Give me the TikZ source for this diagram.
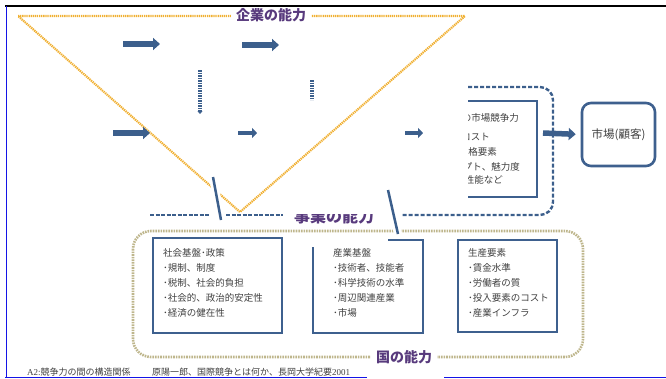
\documentclass[tikz,border=0pt]{standalone}
\usepackage{fontspec}
\usetikzlibrary{arrows.meta}
\newfontfamily\jp{Noto Sans CJK JP}
\newfontfamily\lserif{Liberation Serif}
\definecolor{ablue}{RGB}{60,95,140}
\definecolor{bblue}{RGB}{62,96,142}
\definecolor{trigold}{RGB}{240,176,50}
\definecolor{khaki}{RGB}{190,182,140}
\definecolor{purp}{RGB}{88,58,125}
\definecolor{tgrey}{RGB}{64,64,64}
\definecolor{frameblue}{RGB}{20,20,230}
\begin{document}
\begin{tikzpicture}[x=1pt,y=-1pt,
  fatarrow/.style={ablue, line width=5.5pt, -{Triangle[length=7pt,width=12pt]}},
  smallarrow/.style={ablue, line width=4.5pt, -{Triangle[length=5pt,width=10pt]}},
  beadline/.style={ablue, line width=3.2pt, dash pattern=on 1.6pt off 0.9pt},
  boxline/.style={bblue, line width=2.6pt},
  boxnode/.style={draw=bblue, line width=2.6pt, inner sep=0pt},
  boxtext/.style={anchor=west, inner sep=0pt, font=\jp\fontsize{9.5}{11}\selectfont, text=tgrey},
  uptext/.style={anchor=east, inner sep=0pt, font=\jp\fontsize{9.5}{10}\selectfont, text=tgrey},
  capab/.style={font=\jp\bfseries\fontsize{14}{14}\selectfont, text=purp, fill=white, inner xsep=5pt, inner ysep=1pt},
  halo/.style={white, line width=8pt},
  slant/.style={ablue, line width=2.5pt}
]
\useasboundingbox (0,0) rectangle (666,378);

% frame lines
\draw[black, line width=1.5pt] (5,6) -- (666,6);
\draw[frameblue, line width=1pt] (6,6) -- (6,378);
\draw[frameblue, line width=1pt] (5,377) -- (367,377);
\draw[frameblue, line width=1pt] (444,377) -- (666,377);

% triangle (enterprise capability)
\draw[trigold, line width=2.2pt, dash pattern=on 1.3pt off 0.8pt] (18,16) -- (465,16) -- (240,212) -- cycle;

% dashed business frame
\draw[ablue, line width=2.4pt, dash pattern=on 4pt off 2pt, rounded corners=13pt]
  (468,87) -- (553,87) -- (553,215) -- (401,215);
\draw[ablue, line width=1.5pt, dash pattern=on 4pt off 1.5pt] (150,215) -- (210,215);
\draw[ablue, line width=1.5pt, dash pattern=on 4pt off 1.5pt] (226,215) -- (283,215);

% dotted national frame
\draw[khaki, line width=2.6pt, dash pattern=on 1.6pt off 1pt, rounded corners=18pt] (133,231) rectangle (583,357);

% upper (clipped) product box
\begin{scope}
  \clip (468,90) rectangle (560,210);
  \draw[boxline] (455,101) -- (537,101) -- (537,197) -- (455,197);
  \node[uptext] (u1) at (519,118) {製品の市場競争力};
  \node[uptext] (u2) at (490,137) {･コスト};
  \node[uptext] (u3) at (497,152) {･価格要素};
  \node[uptext] (u4) at (520,167) {･コンセプト、魅力度};
  \node[uptext] (u5) at (503,180) {･性能など};
\end{scope}
\coordinate (ubox) at (543,133);

% market
\node[draw=bblue, line width=2.6pt, rounded corners=9pt, minimum width=73pt, minimum height=63pt,
      font=\jp\fontsize{11.5}{12}\selectfont, text=tgrey] (market) at (618.5,134.5) {市場(顧客)};
\draw[fatarrow, shorten >=5pt] (ubox) -- (market.west);

% lower boxes
\node[boxnode, minimum width=129pt, minimum height=95pt] (box1) at (217.5,285.5) {};
\draw[boxline] (313,247) -- (313,333) -- (423,333) -- (423,240) -- (388,240);
\node[boxnode, minimum width=99pt, minimum height=92pt] (box3) at (507.5,286) {};

\node[boxtext] (a1) at (163,253) {社会基盤･政策};
\node[boxtext] (a2) at (163,268) {･規制、制度};
\node[boxtext] (a3) at (163,283) {･税制、社会的負担};
\node[boxtext] (a4) at (163,298) {･社会的、政治的安定性};
\node[boxtext] (a5) at (163,313) {･経済の健在性};

\node[boxtext] (b1) at (333,253) {産業基盤};
\node[boxtext] (b2) at (333,268) {･技術者、技能者};
\node[boxtext] (b3) at (333,283) {･科学技術の水準};
\node[boxtext] (b4) at (333,298) {･周辺関連産業};
\node[boxtext] (b5) at (333,313) {･市場};

\node[boxtext] (c1) at (468,253) {生産要素};
\node[boxtext] (c2) at (468,268) {･賃金水準};
\node[boxtext] (c3) at (468,283) {･労働者の質};
\node[boxtext] (c4) at (468,298) {･投入要素のコスト};
\node[boxtext] (c5) at (468,313) {･産業インフラ};

% arrows inside triangle
\coordinate (r1a) at (123,44); \coordinate (r1b) at (160,44);
\coordinate (r2a) at (242,45); \coordinate (r2b) at (279,45);
\draw[fatarrow] (r1a) -- (r1b);
\draw[fatarrow] (r2a) -- (r2b);
\coordinate (s1a) at (113,133); \coordinate (s1b) at (150,133);
\coordinate (s2a) at (238,133); \coordinate (s2b) at (257,133);
\coordinate (s3a) at (405,133); \coordinate (s3b) at (423,133);
\draw[fatarrow] (s1a) -- (s1b);
\draw[smallarrow] (s2a) -- (s2b);
\draw[smallarrow] (s3a) -- (s3b);
\coordinate (v1a) at (200,70); \coordinate (v1b) at (200,114);
\coordinate (v2a) at (312,80); \coordinate (v2b) at (312,100);
\draw[beadline, -{Triangle[length=3pt,width=5pt]}] (v1a) -- (v1b);
\draw[beadline] (v2a) -- (v2b);

% slanted lines
\coordinate (l1a) at (213,177); \coordinate (l1b) at (221,220);
\coordinate (l2a) at (388,190); \coordinate (l2b) at (398,234);
\draw[halo] (l1a) -- (l1b);
\draw[slant] (l1a) -- (l1b);
\draw[halo] (l2a) -- (l2b);
\draw[slant] (l2a) -- (l2b);

% labels
\node[capab] (kigyo) at (271,15) {企業の能力};
\node[capab] (kuni) at (404,357) {国の能力};
\begin{scope}
  \clip (285,214.5) rectangle (385,228);
  \node[font=\jp\bfseries\fontsize{16}{16}\selectfont, text=purp, inner sep=0pt] (jigyo) at (334,216.5) {事業の能力};
\end{scope}

% caption
\node[anchor=west, inner sep=0pt, font=\fontsize{9}{10}\selectfont, text=tgrey] (cap1) at (27,372.5)
  {{\lserif A2:}{\jp 競争力の間の構造関係}};
\node[anchor=west, inner sep=0pt, font=\fontsize{9}{10}\selectfont, text=tgrey] (cap2) at (152,372.5)
  {{\jp 原陽一郎、国際競争とは何か、長岡大学紀要}{\lserif 2001}};
\end{tikzpicture}
\end{document}
